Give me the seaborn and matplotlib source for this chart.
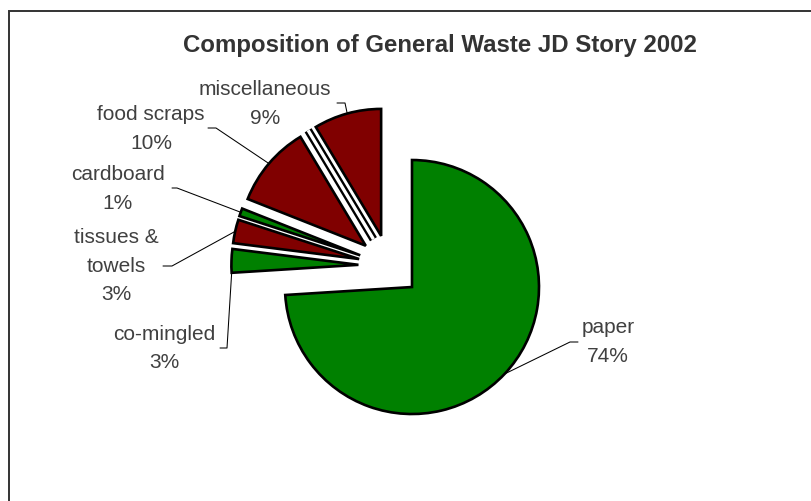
import numpy as np
import matplotlib.pyplot as plt
import seaborn as sns
from matplotlib.patches import Rectangle

sns.set_style('white')
plt.rcParams['font.family'] = ['Liberation Sans', 'DejaVu Sans']

W, H = 811, 501

# data, clockwise from 12 o'clock (the 0 entry is the empty sliver Excel draws)
categories = ['paper', 'co-mingled', 'tissues &\ntowels', 'cardboard',
              'food scraps', 'other', 'miscellaneous']
shares = [74, 3, 3, 1, 10.4, 0, 8.6]
colours = ['#008000', '#008000', '#800000', '#008000', '#800000', 'white', '#800000']

title = 'Composition of General Waste JD Story 2002'

# layout, in image pixels (y from the top)
pie_centre = (389.4, 265.8)
pie_radius = 127
pull_out = 31
line_step = 28.5
# label centre x, first baseline y
label_xy = {
    'paper': (608, 333),
    'co-mingled': (164, 340),
    'tissues &\ntowels': (116, 243),
    'cardboard': (118, 180),
    'food scraps': (151, 120),
    'miscellaneous': (265, 95),
}
# leader: start, elbow, where on the arc it touches (0 = theta1 .. 1 = theta2)
leader = {
    'paper': ((578, 342), (570, 342), 0.5),
    'co-mingled': ((220, 348), (227, 348), 1.0),
    'tissues &\ntowels': ((163, 266), (172, 266), 0.5),
    'cardboard': ((172, 188), (177, 188), 0.5),
    'food scraps': ((208, 128), (216, 128), 0.5),
    'miscellaneous': ((337, 103), (345, 103), 0.5),
}

fig = plt.figure(figsize=(W / 100, H / 100), dpi=100)
ax = fig.add_axes([0, 0, 1, 1])

cx, cy = pie_centre
wedges, _ = ax.pie(shares, colors=colours, startangle=90, counterclock=False,
                   radius=pie_radius, center=(cx, H - cy),
                   explode=[pull_out] * len(shares),
                   wedgeprops=dict(edgecolor='black', linewidth=1.9))
ax.set_xlim(0, W)
ax.set_ylim(0, H)
ax.set_aspect('equal')
ax.axis('off')

for w, name, val in zip(wedges, categories, shares):
    if val == 0:
        # zero slice: drawn as a hollow line like Excel does
        w.set_visible(False)
        t = np.radians(w.theta1)
        xs = [w.center[0], w.center[0] + w.r * np.cos(t)]
        ys = [w.center[1], w.center[1] + w.r * np.sin(t)]
        ax.plot(xs, ys, color='black', lw=5.8, solid_capstyle='butt')
        ax.plot(xs, ys, color='white', lw=2.4, solid_capstyle='butt')
        continue

    lx, ly = label_xy[name]
    lines = f'{name}\n{round(val)}%'.split('\n')
    for k, line in enumerate(lines):
        ax.text(lx, H - (ly + k * line_step), line, ha='center', va='baseline',
                fontsize=15, color='#404040')

    (sx, sy), (ex, ey), frac = leader[name]
    t = np.radians(w.theta1 + frac * (w.theta2 - w.theta1))
    px = w.center[0] + w.r * np.cos(t)
    py = w.center[1] + w.r * np.sin(t)
    ax.plot([sx, ex, px], [H - sy, H - ey, py], color='black', lw=0.75)

fig.text(440 / W, 1 - 52 / H, title, ha='center', va='baseline',
         fontsize=17.3, fontweight='bold', color='#333333')

# chart area border, runs off the right and bottom edges
fig.add_artist(Rectangle((8.5 / W, -0.1), 1.2, 1.1 - 10.5 / H,
                         transform=fig.transFigure, fill=False,
                         edgecolor='#333333', linewidth=1.4))

fig.savefig('out.png', dpi=100)
